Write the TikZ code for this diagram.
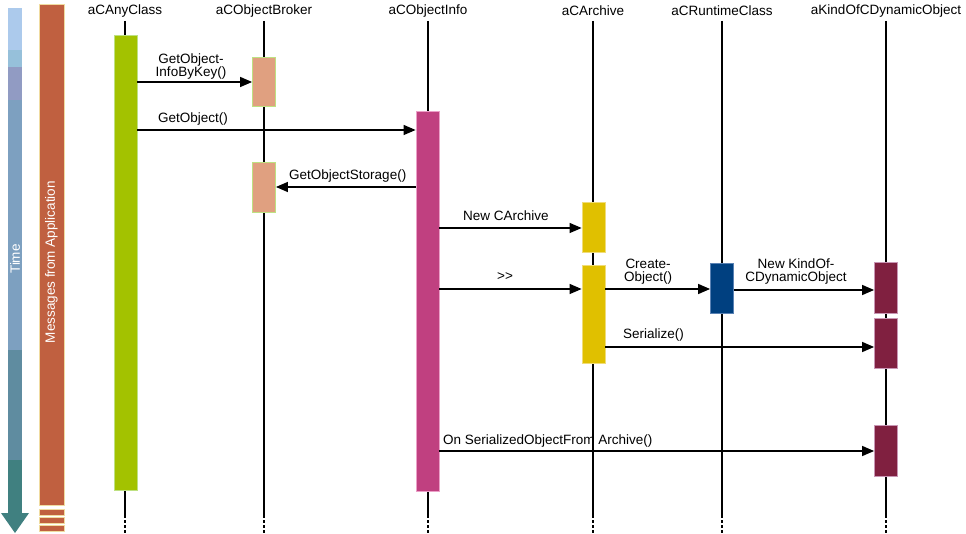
\documentclass[tikz,border=0pt]{standalone}
\usepackage{fontspec}
\setmainfont{Liberation Sans}
\usetikzlibrary{arrows.meta}
\definecolor{cGreen}{RGB}{163,194,0}
\definecolor{cGreenB}{RGB}{190,225,130}
\definecolor{cSalmon}{RGB}{224,160,128}
\definecolor{cMag}{RGB}{192,64,128}
\definecolor{cMagB}{RGB}{235,160,200}
\definecolor{cYel}{RGB}{224,192,0}
\definecolor{cYelB}{RGB}{240,220,120}
\definecolor{cBlue}{RGB}{0,64,128}
\definecolor{cBlueB}{RGB}{90,130,180}
\definecolor{cMar}{RGB}{128,32,64}
\definecolor{cMarB}{RGB}{200,150,180}
\definecolor{cMsg}{RGB}{192,96,64}
\definecolor{cMsgB}{RGB}{240,220,160}
\definecolor{t1}{RGB}{172,202,236}
\definecolor{t2}{RGB}{150,192,218}
\definecolor{t3}{RGB}{145,155,195}
\definecolor{t4}{RGB}{125,160,192}
\definecolor{t5}{RGB}{95,140,160}
\definecolor{t6}{RGB}{64,128,128}
\begin{document}
\begin{tikzpicture}[x=1pt,y=-1pt,
  lbl/.style={font=\fontsize{13.5}{13.5}\selectfont, inner sep=0pt, text=black},
  head/.style={lbl, anchor=center},
  life/.style={line width=1.2pt, black},
  lifedash/.style={line width=1.2pt, black, dash pattern=on 3pt off 2pt},
  act/.style={draw=#1, line width=0.8pt, inner sep=0pt, minimum width=23pt},
  msg/.style={line width=1.3pt, black, -{Triangle[length=12pt,width=10pt]}}]
\useasboundingbox (0,0) rectangle (966,534);
\fill[white] (0,0) rectangle (966,534);

% time arrow
\fill[t1] (8,8) rectangle (22,50);
\fill[t2] (8,50) rectangle (22,67);
\fill[t3] (8,67) rectangle (22,100);
\fill[t4] (8,100) rectangle (22,350);
\fill[t5] (8,350) rectangle (22,460);
\fill[t6] (8,460) rectangle (22,514);
\fill[t6] (1,513) -- (29,513) -- (15,533) -- cycle;
\node[font=\fontsize{13.5}{13.5}\selectfont, text=white, rotate=90, inner sep=0pt] (time) at (15,259) {Time};

% messages bar
\node[draw=cMsgB, fill=cMsg, line width=0.8pt, inner sep=0pt, minimum width=25pt, minimum height=501pt] (msgbar) at (51.5,255) {};
\node[font=\fontsize{13.5}{13.5}\selectfont, text=white, rotate=90, inner sep=0pt] (msgtxt) at (51.5,262) {Messages from Application};
\foreach \yy in {512,520,528.5}
  \fill[cMsg, draw=cMsgB, line width=0.8pt] (39,\yy-3) rectangle (64,\yy+3);

% headers
\node[head] (hAny) at (125,11) {aCAnyClass};
\node[head] (hBrk) at (264,11) {aCObjectBroker};
\node[head] (hInf) at (428,11) {aCObjectInfo};
\node[head] (hArc) at (593,11) {aCArchive};
\node[head] (hRt) at (722,11) {aCRuntimeClass};
\node[head] (hKnd) at (886,11) {aKindOfCDynamicObject};

% lifelines
\foreach \n/\xx in {Any/125,Brk/264,Inf/428,Arc/593,Rt/722,Knd/886}{
  \coordinate (s\n) at (\xx,515);
  \coordinate (e\n) at (\xx,534);
  \draw[life] (\xx,21) -- (s\n);
  \draw[lifedash] (s\n) -- (e\n);
}

% activation boxes
\node[act=cGreenB, fill=cGreen, minimum height=455pt] (any) at (125.5,262.5) {};
\node[act=cGreenB, fill=cSalmon, minimum height=49pt] (brk1) at (264,81.5) {};
\node[act=cGreenB, fill=cSalmon, minimum height=50pt] (brk2) at (264,187) {};
\node[act=cMagB, fill=cMag, minimum height=380pt] (inf) at (427.5,301) {};
\node[act=cYelB, fill=cYel, minimum height=50pt] (arc1) at (593.5,227) {};
\node[act=cYelB, fill=cYel, minimum height=98pt] (arc2) at (593.5,314) {};
\node[act=cBlueB, fill=cBlue, minimum height=50pt] (rt) at (722,288) {};
\node[act=cMarB, fill=cMar, minimum height=51pt] (k1) at (886,287.5) {};
\node[act=cMarB, fill=cMar, minimum height=50pt] (k2) at (886,343) {};
\node[act=cMarB, fill=cMar, minimum height=51pt] (k3) at (886,450.5) {};

% messages
\draw[msg] (any.east |- 0,82) -- (brk1.west |- 0,82);
\node[lbl, align=center, anchor=south] (l1) at (191,80) {GetObject-\\InfoByKey()};
\draw[msg] (any.east |- 0,130) -- (inf.west |- 0,130);
\node[lbl, anchor=base west] (l2) at (158,123) {GetObject()};
\draw[msg] (inf.west |- 0,187) -- (brk2.east |- 0,187);
\node[lbl, anchor=base west] (l3) at (289,180) {GetObjectStorage()};
\draw[msg] (inf.east |- 0,228) -- (arc1.west |- 0,228);
\node[lbl, anchor=base west] (l4) at (463,220.5) {New CArchive};
\draw[msg] (inf.east |- 0,289) -- (arc2.west |- 0,289);
\node[lbl, anchor=base] (l5) at (505,281) {\mbox{>}\mbox{>}};
\draw[msg] (arc2.east |- 0,289) -- (rt.west |- 0,289);
\node[lbl, align=center, anchor=south] (l6) at (648,285) {Create-\\Object()};
\draw[msg] (rt.east |- 0,290) -- (k1.west |- 0,290);
\node[lbl, align=center, anchor=south] (l7) at (796,285) {New KindOf-\\CDynamicObject};
\draw[msg] (arc2.east |- 0,347) -- (k2.west |- 0,347);
\node[lbl, anchor=base west] (l8) at (623,339) {Serialize()};
\draw[msg] (inf.east |- 0,451) -- (k3.west |- 0,451);
\node[lbl, anchor=base west] (l9) at (443,444) {On SerializedObjectFrom Archive()};
\end{tikzpicture}
\end{document}
